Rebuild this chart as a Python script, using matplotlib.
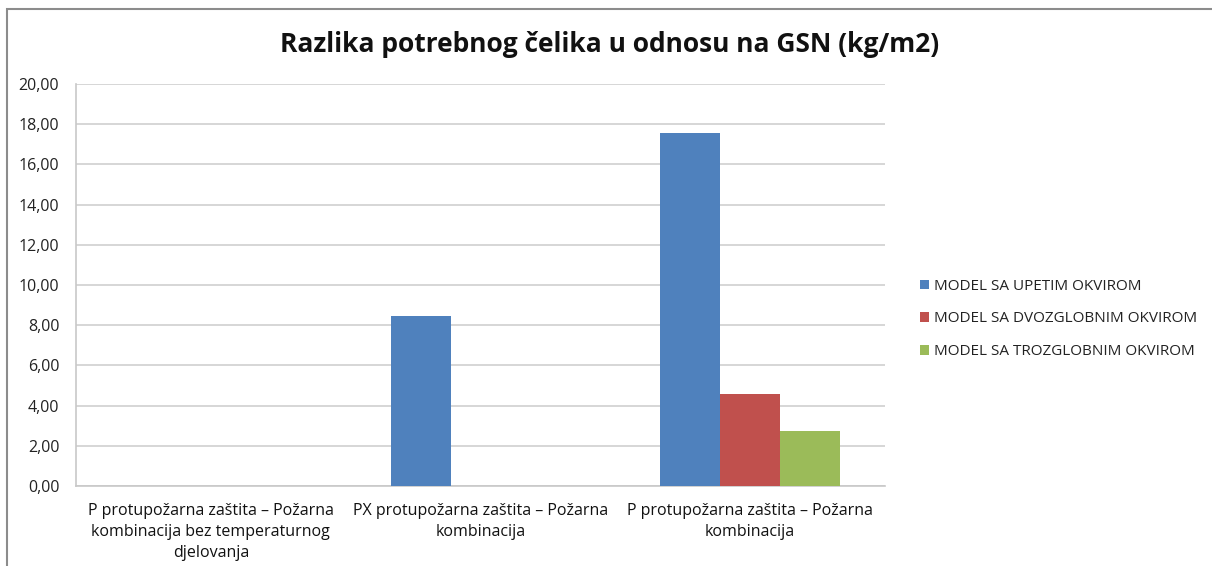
import matplotlib
matplotlib.use('Agg')
import matplotlib.pyplot as plt
from matplotlib.patches import Rectangle
from matplotlib import font_manager
import numpy as np

# podaci
kategorije = ['P protupožarna zaštita – Požarna\nkombinacija bez temperaturnog\ndjelovanja',
              'PX protupožarna zaštita – Požarna\nkombinacija',
              'P protupožarna zaštita – Požarna\nkombinacija']
serije = ['MODEL SA UPETIM OKVIROM', 'MODEL SA DVOZGLOBNIM OKVIROM', 'MODEL SA TROZGLOBNIM OKVIROM']
upeti = [0.0, 8.45, 17.57]
dvozglobni = [0.0, 0.0, 4.58]
trozglobni = [0.0, 0.0, 2.76]
boje = ['#4f81bd', '#c0504d', '#9bbb59']

imena = {f.name for f in font_manager.fontManager.ttflist}
uski = 'Liberation Sans Narrow' if 'Liberation Sans Narrow' in imena else 'Open Sans'
plt.rcParams['font.family'] = ['Open Sans', 'DejaVu Sans']

fig = plt.figure(figsize=(12.12, 5.66), dpi=100)
ax = fig.add_axes([76/1212, 1-486/566, (885-76)/1212, (486-84)/566])

x = np.arange(len(kategorije))
w = 1/4.5
for i, (vals, ime) in enumerate(zip([upeti, dvozglobni, trozglobni], serije)):
    ax.bar(x + (i-1)*w, vals, w, color=boje[i], label=ime, zorder=3)

ax.set_xlim(-0.5, 2.5)
ax.set_ylim(0, 20)
ax.set_yticks(np.arange(0, 21, 2))
ax.set_yticklabels([f'{v:.2f}'.replace('.', ',') for v in np.arange(0, 21, 2)],
                   fontsize=11.5, color='#222222')
ax.set_xticks(x)
ax.set_xticklabels(kategorije, fontsize=11.5, family=uski, color='#111111', linespacing=1.45)
ax.tick_params(axis='both', length=0, pad=12)
ax.tick_params(axis='x', pad=12)
ax.grid(axis='y', color='#d0d0d0', linewidth=1.2, zorder=0)
for s in ['top', 'right']:
    ax.spines[s].set_visible(False)
ax.spines['left'].set_color('#c8c8c8')
ax.spines['bottom'].set_color('#c8c8c8')
ax.spines['left'].set_linewidth(1.2)
ax.spines['bottom'].set_linewidth(1.2)

fig.text(610/1212, 1-45/566, 'Razlika potrebnog čelika u odnosu na GSN (kg/m2)',
         ha='center', va='center', fontsize=19, fontweight='bold', color='#111111')

leg = fig.legend(loc='center left', bbox_to_anchor=(906/1212, 1-319/566), frameon=False,
                 fontsize=11, handlelength=0.6, handleheight=0.6, handletextpad=0.3,
                 labelspacing=1.15)
for t in leg.get_texts():
    t.set_color('#222222')

# okvir grafikona
fig.patches.append(Rectangle((7/1212, -0.1), 1.2, 1-9/566+0.1, transform=fig.transFigure,
                             fill=False, edgecolor='#8c8c8c', linewidth=1.5))

fig.savefig('out.png', dpi=100)
